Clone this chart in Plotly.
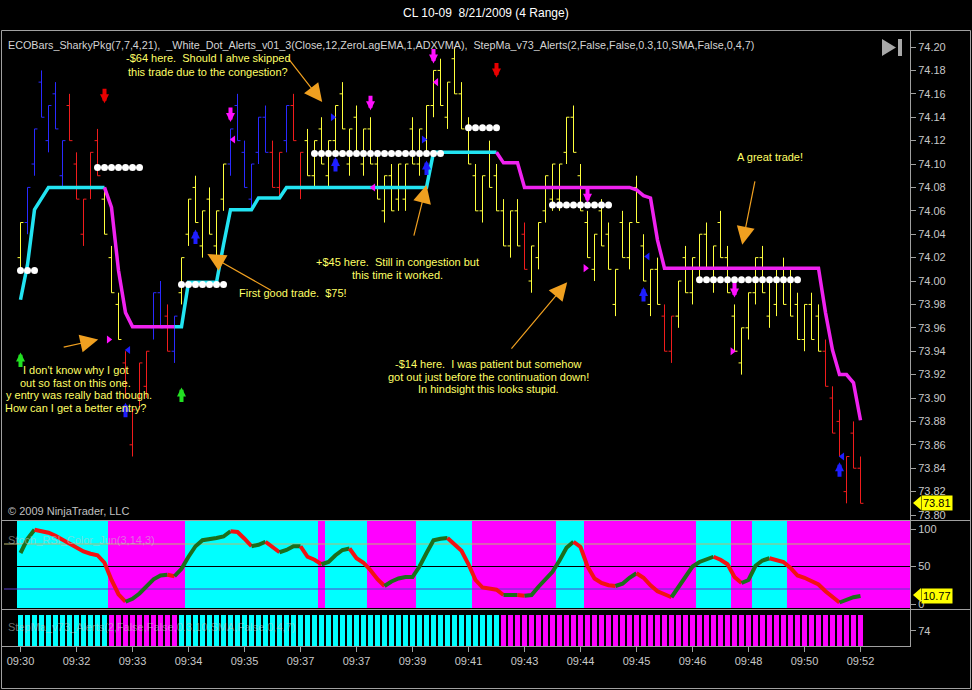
import plotly.graph_objects as go
from plotly.subplots import make_subplots

W, H = 972, 690
FONT = "Liberation Sans, Arial, sans-serif"

# ---------------- data ----------------
bars = list(range(121))
highs = [74.05,74.08,74.13,74.18,74.15,74.17,74.12,74.16,74.11,74.07,
         74.11,74.13,74.08,74.03,73.99,73.94,73.89,73.93,73.94,73.99,
         74.00,73.98,73.97,74.02,74.07,74.09,74.06,74.08,74.06,74.10,
         74.13,74.16,74.12,74.10,74.14,74.15,74.12,74.11,74.15,74.16,
         74.11,74.13,74.12,74.14,74.12,74.15,74.17,74.13,74.15,74.13,
         74.14,74.11,74.09,74.10,74.10,74.10,74.14,74.13,74.15,74.18,
         74.19,74.17,74.20,74.17,74.14,74.10,74.09,74.12,74.10,74.07,
         74.06,74.07,74.05,74.03,74.05,74.09,74.10,74.10,74.14,74.15,
         74.10,74.06,74.04,74.07,74.05,74.01,74.06,74.05,74.09,74.04,
         74.01,74.02,73.98,73.97,74.00,74.03,74.02,74.04,74.05,74.03,
         74.06,74.03,73.98,73.96,73.99,74.02,74.03,74.00,74.01,74.02,
         74.01,73.99,73.98,73.99,73.98,73.95,73.91,73.89,73.85,73.88,
         73.85]
lows = [74.01,74.04,74.09,74.14,74.11,74.13,74.08,74.12,74.07,74.03,
        74.07,74.09,74.04,73.99,73.95,73.90,73.85,73.89,73.90,73.95,
        73.96,73.94,73.93,73.98,74.03,74.05,74.02,74.04,74.02,74.06,
        74.09,74.12,74.08,74.06,74.10,74.11,74.08,74.07,74.11,74.12,
        74.07,74.09,74.08,74.10,74.08,74.11,74.13,74.09,74.11,74.09,
        74.10,74.07,74.05,74.06,74.06,74.06,74.10,74.09,74.11,74.14,
        74.15,74.13,74.16,74.13,74.10,74.06,74.05,74.08,74.06,74.03,
        74.02,74.03,74.01,73.99,74.01,74.05,74.06,74.06,74.10,74.11,
        74.06,74.02,74.00,74.03,74.01,73.97,74.02,74.01,74.05,74.00,
        73.97,73.98,73.94,73.93,73.96,73.99,73.98,74.00,74.01,73.99,
        74.02,73.99,73.94,73.92,73.95,73.98,73.99,73.96,73.97,73.98,
        73.97,73.95,73.94,73.95,73.94,73.91,73.87,73.85,73.81,73.84,
        73.81]
opens = [74.02,74.05,74.10,74.17,74.12,74.16,74.09,74.15,74.10,74.04,
         74.08,74.12,74.07,74.02,73.98,73.93,73.86,73.90,73.91,73.96,
         73.99,73.97,73.94,73.99,74.04,74.08,74.03,74.07,74.03,74.07,
         74.10,74.15,74.11,74.07,74.11,74.14,74.11,74.08,74.12,74.15,
         74.08,74.12,74.09,74.13,74.09,74.12,74.16,74.10,74.14,74.10,
         74.13,74.10,74.06,74.09,74.07,74.07,74.13,74.10,74.12,74.15,
         74.18,74.14,74.19,74.16,74.13,74.09,74.06,74.11,74.09,74.06,
         74.03,74.06,74.04,74.00,74.02,74.06,74.07,74.07,74.11,74.14,
         74.09,74.05,74.01,74.06,74.04,73.98,74.05,74.02,74.08,74.03,
         73.98,74.01,73.97,73.94,73.97,74.02,73.99,74.01,74.04,74.00,
         74.05,74.02,73.97,73.93,73.96,73.99,74.02,73.97,73.98,74.01,
         74.00,73.98,73.95,73.98,73.97,73.94,73.90,73.88,73.82,73.87,
         73.84]
closes = [74.05,74.08,74.13,74.14,74.15,74.13,74.12,74.12,74.07,74.07,
          74.11,74.09,74.04,73.99,73.95,73.90,73.89,73.93,73.94,73.99,
          73.96,73.94,73.97,74.02,74.07,74.05,74.06,74.04,74.06,74.10,
          74.13,74.12,74.08,74.10,74.14,74.11,74.08,74.11,74.15,74.12,
          74.11,74.09,74.12,74.10,74.12,74.15,74.13,74.13,74.11,74.13,
          74.10,74.07,74.09,74.06,74.10,74.10,74.10,74.13,74.15,74.18,
          74.15,74.17,74.16,74.13,74.10,74.06,74.09,74.08,74.06,74.03,
          74.06,74.03,74.01,74.03,74.05,74.09,74.10,74.10,74.14,74.11,
          74.06,74.02,74.04,74.03,74.01,74.01,74.02,74.05,74.05,74.00,
          74.01,73.98,73.94,73.97,74.00,73.99,74.02,74.04,74.01,74.03,
          74.02,73.99,73.94,73.96,73.99,74.02,73.99,74.00,74.01,73.98,
          73.97,73.95,73.98,73.95,73.94,73.91,73.87,73.85,73.85,73.84,
          73.81]
bar_colors = ("YBBBBBBRRR" "RRYYYRRRRB" "BRBYYYYYYY" "BBBBBBRRBR" "RYYYYYYYYY"
              "YYYYYYYYYY" "YYYYYYYYYY" "YYRYYYYYYY" "YYYYYYYYYY" "YYRRYYYYYY"
              "YYYYYYYYYY" "YYYYYRRRRR" "R")

stepma = [73.984,74.014,74.061,74.071,74.080,74.080,74.080,74.080,74.080,74.080,
          74.080,74.080,74.080,74.063,74.009,73.973,73.961,73.961,73.961,73.961,
          73.961,73.961,73.961,73.961,73.999,73.999,73.999,73.999,73.999,74.031,
          74.061,74.061,74.061,74.061,74.071,74.071,74.071,74.071,74.080,74.080,
          74.080,74.080,74.080,74.080,74.080,74.080,74.080,74.080,74.080,74.080,
          74.080,74.080,74.080,74.080,74.080,74.080,74.080,74.080,74.080,74.110,
          74.110,74.110,74.110,74.110,74.110,74.110,74.110,74.110,74.110,74.101,
          74.101,74.101,74.080,74.080,74.080,74.080,74.080,74.080,74.080,74.080,
          74.080,74.080,74.080,74.080,74.080,74.080,74.080,74.080,74.078,74.073,
          74.071,74.035,74.011,74.011,74.011,74.011,74.011,74.011,74.011,74.011,
          74.011,74.011,74.011,74.011,74.011,74.011,74.011,74.011,74.011,74.011,
          74.011,74.011,74.011,74.011,74.011,73.973,73.941,73.920,73.920,73.913,
          73.881]
stepma_colors = "c" * 13 + "m" * 10 + "c" * 46 + "m" * 52

stoch = [68,87,99,97,95,91,86,81,75,70,
         67,65,55,32,13,3,7,14,23,33,
         38,39,37,47,63,77,85,86,88,90,
         97,96,87,77,79,83,76,69,72,77,
         77,63,59,53,56,65,72,74,61,55,
         45,33,24,30,34,36,36,50,68,85,
         87,88,80,71,53,32,22,20,19,12,
         12,12,11,12,23,33,43,58,75,83,
         76,50,34,28,25,24,27,35,41,35,
         25,17,13,9,23,38,50,56,60,63,
         59,53,36,28,32,51,58,61,59,56,
         48,38,35,30,26,17,9,2,6,9,
         10.77]

band_start = [0, 13, 24, 43, 44, 50, 57, 65, 77, 81, 97, 102, 105, 110]
band_end = [12, 23, 42, 43, 49, 56, 64, 76, 80, 96, 101, 104, 109, 120]
band_color = "cmcmcmcmcmcmcm"

dot_start = [0, 11, 23, 42, 64, 76, 97]
dot_end = [2, 17, 29, 60, 68, 84, 111]
dot_level = [74.009, 74.097, 73.997, 74.109, 74.131, 74.065, 74.001]

alert_bar = [0, 23, 12, 68, 30, 50, 59, 81, 102, 45, 58, 89, 117, 15, 25]
alert_price = [73.939, 73.909, 74.152, 74.174, 74.136, 74.146, 74.186, 74.067, 73.986,
               74.106, 74.103, 73.995, 73.845, 73.896, 74.044]
alert_dir = ["up", "up", "down", "down", "down", "down", "down", "down", "down",
             "up", "up", "up", "up", "up", "up"]
alert_kind = ["green", "green", "red", "red", "mag", "mag", "mag", "mag", "mag",
              "blue", "blue", "blue", "blue", "blue", "blue"]

tri_bar = [30.4, 12.6, 50.4, 59.4, 80.7, 101.7, 15.4, 44.6, 57.6, 89.6, 117.4]
tri_price = [74.121, 73.950, 74.080, 74.170, 74.011, 73.940, 73.941, 74.140, 74.121, 74.021, 73.850]
tri_dir = ["left", "right", "left", "left", "right", "right", "left", "right", "right", "left", "left"]
tri_kind = ["mag"] * 6 + ["blue"] * 5

note_bar = [43.1, 58.0, 26.7, 78.1, 103.1, 11.1]
note_price = [74.153, 74.082, 74.023, 73.999, 74.031, 73.950]
note_ax = [-35, -13, 65, -57, 13, -36]
note_ay = [-45, 52, 37, 68, -65, 8]

xtick_bars = [0, 8, 16, 24, 32, 40, 48, 56, 64, 72, 80, 88, 96, 104, 112, 120]
xtick_labels = ["09:30", "09:32", "09:33", "09:34", "09:35", "09:37", "09:37", "09:39",
                "09:41", "09:43", "09:44", "09:45", "09:46", "09:48", "09:50", "09:52"]
price_ticks = [73.80, 73.82, 73.84, 73.86, 73.88, 73.90, 73.92, 73.94, 73.96, 73.98,
               74.00, 74.02, 74.04, 74.06, 74.08, 74.10, 74.12, 74.14, 74.16, 74.18, 74.20]
stoch_ticks = [0, 50, 100]
stoch_levels = [80, 50, 20]
last_price = 73.81
last_stoch = 10.77

# ---------------- styles ----------------
BAR_COL = {"Y": "#ffff3c", "B": "#2a2aff", "R": "#f01c1c"}
STEP_COL = {"c": "#22e4f2", "m": "#f022f0"}
BAND_COL = {"c": "#00ffff", "m": "#ff00ff"}
ALERT_COL = {"green": "#22e022", "red": "#e80000", "mag": "#ff10ff", "blue": "#1e1eff"}
LEVEL_COL = {80: "#b8b86e", 50: "#000000", 20: "#5a3cc8"}
YEL = "#ffff66"
GRAY = "#c8c8c8"
LINE = "#a0a0a0"


def px(x):
    return x / W


def py(y):
    return 1 - y / H


# plot area 4..910 px, 7 px per bar, bar 0 centred on a pixel (x = 20.5)
X_MIN = -16.5 / 7
X_MAX = X_MIN + 906 / 7

fig = make_subplots(rows=3, cols=1, shared_xaxes=True, vertical_spacing=0.01)

# ---- OHLC bars by colour ----
for key in "YBR":
    idx = [i for i in bars if bar_colors[i] == key]
    fig.add_trace(go.Ohlc(
        x=[bars[i] for i in idx], open=[opens[i] for i in idx], high=[highs[i] for i in idx],
        low=[lows[i] for i in idx], close=[closes[i] for i in idx],
        increasing=dict(line=dict(color=BAR_COL[key], width=1)),
        decreasing=dict(line=dict(color=BAR_COL[key], width=1)),
        tickwidth=0.42, showlegend=False, hoverinfo="skip"), row=1, col=1)


def runs(colors):
    out, start = [], 0
    for i in range(1, len(colors) + 1):
        if i == len(colors) or colors[i] != colors[start]:
            out.append((start, i - 1, colors[start]))
            start = i
    return out


# ---- StepMA line ----
for a, b, c in runs(stepma_colors):
    lo = max(a - 1, 0)
    fig.add_trace(go.Scatter(x=bars[lo:b + 1], y=stepma[lo:b + 1], mode="lines",
                             line=dict(color=STEP_COL[c], width=3.5), showlegend=False,
                             hoverinfo="skip"), row=1, col=1)

# ---- white dots ----
dx, dy = [], []
for s, e, lv in zip(dot_start, dot_end, dot_level):
    for i in range(s, e + 1):
        dx.append(bars[i])
        dy.append(lv)
fig.add_trace(go.Scatter(x=dx, y=dy, mode="markers", marker=dict(color="white", size=7),
                         showlegend=False, hoverinfo="skip"), row=1, col=1)

# ---- small triangles ----
for k in ["mag", "blue"]:
    for d in ["left", "right"]:
        sel = [j for j in range(len(tri_bar)) if tri_kind[j] == k and tri_dir[j] == d]
        if sel:
            fig.add_trace(go.Scatter(x=[tri_bar[j] for j in sel], y=[tri_price[j] for j in sel],
                                     mode="markers",
                                     marker=dict(symbol="triangle-" + d, size=7, color=ALERT_COL[k]),
                                     showlegend=False, hoverinfo="skip"), row=1, col=1)

# ---- stochastic background bands ----
for s, e, c in zip(band_start, band_end, band_color):
    x1 = e + 0.5 if e < bars[-1] else X_MAX
    fig.add_shape(type="rect", xref="x2", yref="y2 domain", x0=s - 0.5, x1=x1, y0=0, y1=1,
                  fillcolor=BAND_COL[c], line=dict(width=0), layer="below")

for lv in stoch_levels:
    fig.add_trace(go.Scatter(x=[X_MIN, X_MAX], y=[lv, lv], mode="lines",
                             line=dict(color=LEVEL_COL[lv], width=1), showlegend=False,
                             hoverinfo="skip"), row=2, col=1)

# ---- stochastic line (green rising, red falling) ----
st_col = ["g"] + ["g" if stoch[i] >= stoch[i - 1] else "r" for i in range(1, len(stoch))]
for a, b, c in runs(st_col):
    lo = max(a - 1, 0)
    fig.add_trace(go.Scatter(x=bars[lo:b + 1], y=stoch[lo:b + 1], mode="lines",
                             line=dict(color="#1c6e1c" if c == "g" else "#f21212", width=4),
                             showlegend=False, hoverinfo="skip"), row=2, col=1)

# ---- bottom StepMa colour bars ----
fig.add_trace(go.Bar(x=bars, y=[1] * len(bars), width=0.7,
                     marker=dict(color=[BAND_COL[c] for c in stepma_colors], line=dict(width=0)),
                     showlegend=False, hoverinfo="skip"), row=3, col=1)

# ---- alert arrows ----
for b, p, d, k in zip(alert_bar, alert_price, alert_dir, alert_kind):
    fig.add_annotation(x=b, y=p, xref="x", yref="y", text="", showarrow=True,
                       ax=0, ay=16 if d == "up" else -16, arrowhead=2, arrowsize=0.45,
                       arrowwidth=4, arrowcolor=ALERT_COL[k], standoff=0)

# ---- orange note arrows ----
for b, p, axp, ayp in zip(note_bar, note_price, note_ax, note_ay):
    fig.add_annotation(x=b, y=p, xref="x", yref="y", text="", showarrow=True,
                       ax=axp, ay=ayp, arrowhead=2, arrowsize=3.0, arrowwidth=1.2,
                       arrowcolor="#f0a020", standoff=0)

# ---- price tags ----
fig.add_annotation(x=px(921), y=last_price, xref="paper", yref="y", text="73.81", showarrow=False,
                   xanchor="left", yanchor="middle", bgcolor="#ffff00", borderpad=1,
                   font=dict(size=11, color="black", family=FONT))
fig.add_annotation(x=px(921), y=last_stoch, xref="paper", yref="y2", text="10.77", showarrow=False,
                   xanchor="left", yanchor="middle", bgcolor="#ffff00", borderpad=1,
                   font=dict(size=11, color="black", family=FONT))


def text(x, y, s, size=11, color=YEL, anchor="center"):
    fig.add_annotation(x=px(x), y=py(y), xref="paper", yref="paper", text=s, showarrow=False,
                       xanchor=anchor, yanchor="middle", font=dict(size=size, color=color, family=FONT))


text(486, 13, "CL 10-09  8/21/2009 (4 Range)", size=12, color="white")
text(6, 45, "ECOBars_SharkyPkg(7,7,4,21),  _White_Dot_Alerts_v01_3(Close,12,ZeroLagEMA,1,ADXVMA),  "
     "StepMa_v73_Alerts(2,False,False,0.3,10,SMA,False,0,4,7)", size=10.75, color="#d4d4d4",
     anchor="left")
text(6, 511, "© 2009 NinjaTrader, LLC", color="#c0c0c0", anchor="left")
text(6, 540, "Stoch_RSI_Color_Jun(3,14,3)", color="rgba(200,200,200,0.55)", anchor="left")
text(6, 627, "StepMa_v73_Alerts(2,False,False,0.3,10,SMA,False,0,4,7)",
     color="rgba(200,200,200,0.55)", anchor="left")

text(208, 58, "-$64 here.  Should I ahve skipped")
text(208, 72, "this trade due to the congestion?")
text(397, 262, "+$45 here.  Still in congestion but")
text(397, 275, "this time it worked.")
text(293, 293, "First good trade.  $75!")
text(488, 364, "-$14 here.  I was patient but somehow")
text(488, 377, "got out just before the continuation down!")
text(488, 389, "In hindsight this looks stupid.")
text(770, 157, "A great trade!")
text(75, 370, "I don't know why I got")
text(75, 383, "out so fast on this one.")
text(79, 395, "y entry was really bad though.")
text(75, 408, "How can I get a better entry?")

# ---- frame / separators / icon ----
shapes = [
    dict(type="rect", xref="paper", yref="paper", x0=px(1.5), x1=px(970.5), y0=py(688.5), y1=py(30.5),
         line=dict(color=LINE, width=1)),
    dict(type="line", xref="paper", yref="paper", x0=px(1), x1=px(970), y0=py(520.5), y1=py(520.5),
         line=dict(color=LINE, width=1)),
    dict(type="line", xref="paper", yref="paper", x0=px(1), x1=px(970), y0=py(609.5), y1=py(609.5),
         line=dict(color=LINE, width=1)),
    dict(type="line", xref="paper", yref="paper", x0=px(1), x1=px(911), y0=py(646.5), y1=py(646.5),
         line=dict(color=LINE, width=1)),
    dict(type="line", xref="paper", yref="paper", x0=px(910.5), x1=px(910.5), y0=py(646.5), y1=py(30),
         line=dict(color=LINE, width=1)),
    dict(type="path", xref="paper", yref="paper",
         path=f"M {px(882)} {py(39)} L {px(882)} {py(56)} L {px(896)} {py(47.5)} Z",
         fillcolor="#a8a8a8", line=dict(width=0)),
    dict(type="rect", xref="paper", yref="paper", x0=px(898), x1=px(902), y0=py(56), y1=py(39),
         fillcolor="#a8a8a8", line=dict(width=0)),
    dict(type="path", xref="paper", yref="paper",
         path=f"M {px(913)} {py(503)} L {px(921)} {py(496)} L {px(921)} {py(510)} Z",
         fillcolor="#ffff00", line=dict(width=0)),
    dict(type="path", xref="paper", yref="paper",
         path=f"M {px(913)} {py(595)} L {px(921)} {py(588)} L {px(921)} {py(602)} Z",
         fillcolor="#ffff00", line=dict(width=0)),
]
for s in shapes:
    fig.add_shape(**s)

axis_common = dict(showgrid=False, zeroline=False, automargin=False)
yaxis_common = dict(axis_common, side="right", showline=True, linecolor=LINE, ticks="outside",
                    ticklen=5, tickcolor=LINE, tickfont=dict(size=11, color=GRAY, family=FONT))

fig.update_layout(
    template="none",
    width=W, height=H,
    margin=dict(l=0, r=0, t=0, b=0, pad=0),
    paper_bgcolor="black", plot_bgcolor="black",
    showlegend=False, bargap=0,
    xaxis=dict(axis_common, domain=[px(4), px(910)], range=[X_MIN, X_MAX], showticklabels=False,
               rangeslider=dict(visible=False), ticks=""),
    xaxis2=dict(axis_common, domain=[px(4), px(910)], range=[X_MIN, X_MAX], showticklabels=False,
                ticks=""),
    xaxis3=dict(axis_common, domain=[px(4), px(910)], range=[X_MIN, X_MAX], tickmode="array",
                tickvals=xtick_bars, ticktext=xtick_labels, ticks="outside", ticklen=5,
                tickcolor=LINE, tickfont=dict(size=11, color=GRAY, family=FONT)),
    yaxis=dict(yaxis_common, domain=[py(519), py(31)], range=[73.7966, 74.2137],
               tickmode="array", tickvals=price_ticks, ticktext=[f"{v:.2f}" for v in price_ticks]),
    yaxis2=dict(yaxis_common, domain=[py(608), py(521)], range=[-5.33, 110.67],
                tickmode="array", tickvals=stoch_ticks, ticktext=[str(v) for v in stoch_ticks]),
    yaxis3=dict(yaxis_common, domain=[py(646), py(610)], range=[0, 1.161],
                tickmode="array", tickvals=[0.484], ticktext=["74"]),
)

fig.write_html("out.html", config={"displayModeBar": False}, post_script=(
    "document.body.style.margin='0';document.body.style.background='black';"
    "document.body.style.overflow='hidden';"))
